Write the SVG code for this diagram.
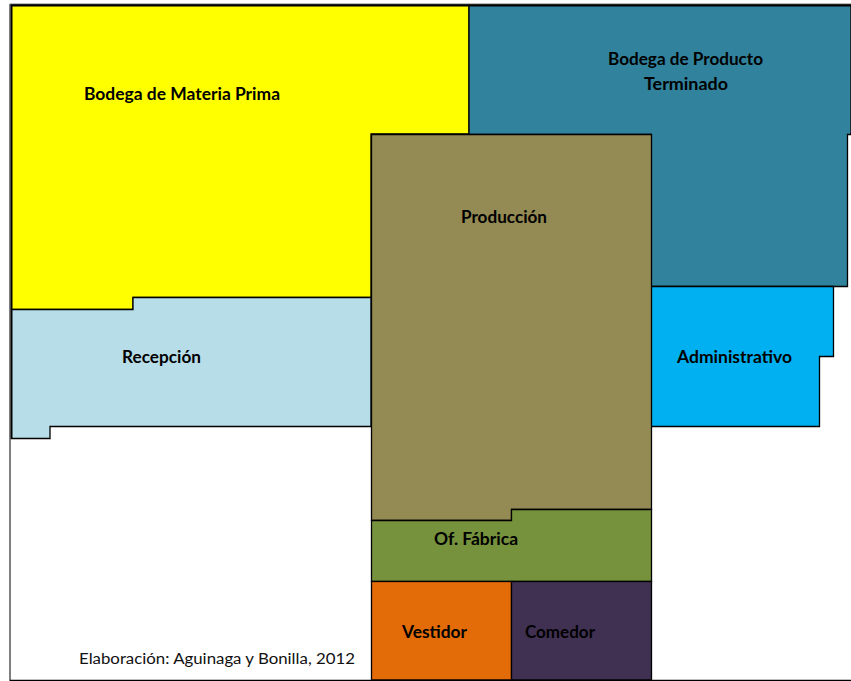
<svg xmlns="http://www.w3.org/2000/svg" width="851" height="681" viewBox="0 0 851 681">
<style>
.a{stroke:#000;stroke-width:1.3}
.t{font-family:"Lato","Open Sans",sans-serif;font-weight:700;font-size:16.5px;fill:#000}
.n{font-family:"Lato","Open Sans",sans-serif;font-size:14.5px;fill:#111}
</style>
<rect width="851" height="681" fill="#fff"/>
<g id="bodega-materia-prima"><path class="a" fill="#ffff00" d="M11 5H469V134H371V297.500H133V309.500H11Z"/><text class="t" x="84" y="100" textLength="196" lengthAdjust="spacingAndGlyphs">Bodega de Materia Prima</text></g>
<g id="bodega-producto-terminado"><path class="a" fill="#31829c" d="M469 5H851V134.500H847.500V286.500H651V134.500H469Z"/><text class="t" x="608" y="65" textLength="155" lengthAdjust="spacingAndGlyphs">Bodega de Producto</text><text class="t" x="644" y="90" textLength="84" lengthAdjust="spacingAndGlyphs">Terminado</text></g>
<g id="recepcion"><path class="a" fill="#b7dde8" d="M11 309.500H133V297.500H371V426.500H50V438.500H11Z"/><text class="t" x="122" y="363" textLength="79" lengthAdjust="spacingAndGlyphs">Recepción</text></g>
<g id="administrativo"><path class="a" fill="#00b0f0" d="M651 286.500H833.500V356.500H819.500V426.500H651Z"/><text class="t" x="677" y="363" textLength="115" lengthAdjust="spacingAndGlyphs">Administrativo</text></g>
<g id="produccion"><path class="a" fill="#948a54" d="M371.500 134.500H651.500V509.500H511.500V520.500H371.500Z"/><text class="t" x="461" y="223" textLength="86" lengthAdjust="spacingAndGlyphs">Producción</text></g>
<g id="of-fabrica"><path class="a" fill="#76923c" d="M371.500 520.500H511.500V509.500H651.500V581.500H371.500Z"/><text class="t" x="434" y="545" textLength="84" lengthAdjust="spacingAndGlyphs">Of. Fábrica</text></g>
<g id="vestidor"><rect class="a" fill="#e36c09" x="371.500" y="581.500" width="140" height="98.500"/><text class="t" x="402" y="638" textLength="65" lengthAdjust="spacingAndGlyphs">Vestidor</text></g>
<g id="comedor"><rect class="a" fill="#403152" x="511.500" y="581.500" width="140" height="98.500"/><text class="t" x="525" y="638" textLength="70" lengthAdjust="spacingAndGlyphs">Comedor</text></g>
<g id="marco" fill="none">
<path stroke="#000" stroke-width="2" d="M10 5.500H851"/>
<path stroke="#bbb" stroke-width="1" d="M10 3.500H851"/>
<path stroke="#000" stroke-width="2" d="M11.500 5V438"/>
<path stroke="#555" stroke-width="1.500" d="M10 4V681"/>
<path stroke="#000" stroke-width="1.500" d="M10 680.500H851"/>
</g>
<text class="n" x="79" y="664" textLength="276" lengthAdjust="spacingAndGlyphs">Elaboración: Aguinaga y Bonilla, 2012</text>
</svg>
